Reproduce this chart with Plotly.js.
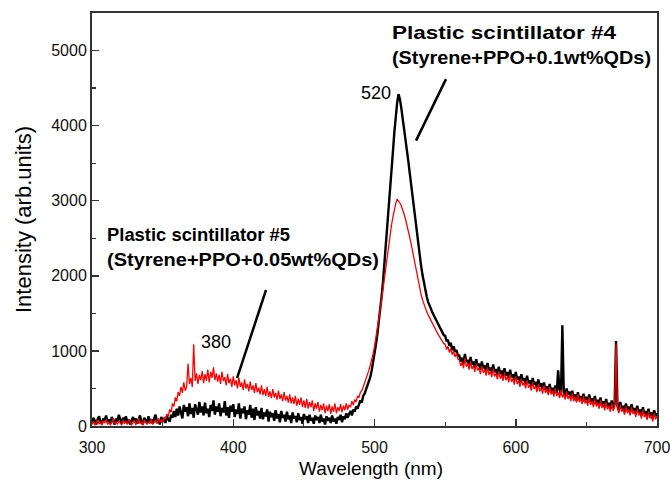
<!DOCTYPE html>
<html>
<head>
<meta charset="utf-8">
<script src="https://cdn.plot.ly/plotly-3.0.1.min.js"></script>
<style>
html,body{margin:0;padding:0;background:#fff;}
#chart{width:670px;height:481px;}
</style>
</head>
<body>
<div id="chart"></div>
<script>
// Wavelength grid: starts at 300 nm, one sample every 1 nm, up to 700 nm
var wavelengthStart = 300;
var wavelengthStep = 1;

// Plastic scintillator #4 (Styrene+PPO+0.1wt%QDs) - black
var intensity01 = [
  40, 110, 70, 20, 90, 130, 60, 30, 100, 80,
  140, 50, 90, 30, 120, 70, 20, 100, 60, 150,
  80, 30, 110, 60, 130, 40, 90, 20, 70, 120,
  50, 100, 30, 80, 140, 60, 20, 110, 70, 40,
  130, 60, 90, 30, 100, 150, 50, 80, 20, 120,
  70, 100, 40, 130, 90, 60, 150, 110, 200, 120,
  230, 140, 260, 170, 100, 280, 190, 250, 130, 300,
  160, 240, 110, 290, 200, 150, 320, 180, 260, 140,
  310, 170, 230, 120, 280, 200, 340, 150, 260, 190,
  300, 130, 240, 180, 330, 140, 250, 110, 270, 190,
  290, 120, 220, 160, 300, 100, 230, 170, 260, 90,
  210, 150, 280, 110, 230, 80, 250, 140, 200, 100,
  240, 90, 180, 130, 220, 60, 190, 120, 170, 70,
  210, 100, 160, 50, 200, 110, 150, 60, 190, 90,
  140, 40, 180, 100, 130, 50, 170, 80, 120, 30,
  160, 90, 130, 40, 150, 70, 110, 30, 140, 80,
  120, 40, 150, 60, 100, 20, 130, 70, 110, 40,
  140, 60, 100, 30, 120, 80, 150, 50, 130, 90,
  170, 110, 160, 200, 140, 220, 190, 260, 230, 300,
  340, 310, 400, 430, 480, 540, 600, 650, 740, 840,
  960, 1080, 1220, 1370, 1530, 1720, 1920, 2150, 2380, 2620,
  2880, 3130, 3380, 3640, 3900, 4120, 4300, 4420, 4350, 4230,
  4100, 3950, 3820, 3660, 3520, 3360, 3200, 3030, 2870, 2700,
  2540, 2400, 2260, 2130, 2010, 1900, 1810, 1720, 1650, 1590,
  1560, 1510, 1470, 1430, 1390, 1350, 1310, 1270, 1240, 1210,
  1200, 1130, 1150, 1070, 1110, 1010, 1060, 990, 1010, 940,
  940, 860, 910, 830, 960, 850, 880, 810, 920, 820,
  860, 780, 890, 800, 830, 750, 860, 770, 810, 730,
  840, 740, 780, 700, 820, 720, 760, 680, 790, 690,
  740, 660, 770, 670, 720, 640, 750, 650, 690, 610,
  720, 620, 660, 580, 690, 600, 640, 560, 670, 570,
  610, 530, 640, 550, 590, 510, 620, 520, 570, 490,
  580, 480, 530, 450, 560, 460, 510, 430, 540, 440,
  740, 490, 410, 1340, 460, 400, 500, 420, 460, 380,
  470, 370, 420, 340, 450, 350, 400, 320, 430, 330,
  390, 310, 420, 320, 370, 290, 400, 300, 350, 270,
  380, 280, 330, 250, 360, 260, 310, 230, 340, 240,
  290, 1130, 270, 210, 320, 230, 270, 190, 300, 210,
  260, 180, 290, 200, 240, 160, 270, 180, 220, 140,
  250, 160, 200, 120, 230, 140, 180, 100, 210, 130,
  170
];

// Plastic scintillator #5 (Styrene+PPO+0.05wt%QDs) - red
var intensity005 = [
  20, 60, 10, 40, 80, 30, 50, 10, 70, 40,
  90, 20, 50, 10, 60, 100, 30, 50, 20, 70,
  40, 10, 80, 30, 60, 20, 90, 40, 10, 50,
  70, 20, 40, 100, 30, 60, 10, 80, 40, 20,
  60, 30, 90, 20, 50, 70, 30, 100, 60, 80,
  40, 120, 90, 160, 130, 220, 180, 300, 260, 380,
  330, 450, 400, 520, 440, 580, 470, 520, 830, 560,
  640, 520, 1090, 600, 700, 560, 680, 610, 730, 570,
  690, 600, 750, 580, 720, 640, 780, 610, 700, 590,
  680, 560, 720, 600, 650, 540, 690, 570, 630, 520,
  660, 540, 610, 500, 640, 520, 580, 480, 620, 500,
  560, 460, 590, 480, 540, 440, 570, 450, 510, 420,
  540, 410, 490, 400, 520, 390, 460, 370, 490, 380,
  440, 350, 470, 360, 420, 330, 450, 340, 400, 310,
  420, 300, 380, 290, 400, 270, 360, 280, 380, 250,
  340, 240, 360, 230, 320, 250, 340, 200, 300, 230,
  320, 190, 280, 210, 300, 170, 270, 200, 290, 160,
  260, 190, 300, 170, 250, 200, 290, 180, 270, 210,
  300, 220, 280, 250, 330, 280, 350, 320, 400, 380,
  450, 470, 520, 570, 620, 680, 740, 810, 880, 960,
  1060, 1170, 1290, 1410, 1540, 1680, 1830, 1980, 2130, 2270,
  2410, 2540, 2670, 2780, 2880, 2960, 3020, 3000, 2970, 2930,
  2880, 2820, 2750, 2680, 2600, 2510, 2420, 2320, 2220, 2110,
  2010, 1920, 1830, 1750, 1680, 1620, 1570, 1520, 1480, 1440,
  1400, 1360, 1320, 1290, 1250, 1220, 1190, 1160, 1130, 1100,
  1090, 1020, 1060, 980, 1030, 950, 1000, 920, 970, 890,
  880, 800, 850, 770, 900, 790, 830, 750, 860, 760,
  800, 720, 830, 740, 770, 690, 800, 710, 750, 670,
  780, 680, 730, 650, 760, 660, 700, 620, 730, 630,
  680, 600, 710, 610, 660, 580, 690, 590, 630, 550,
  660, 560, 600, 520, 630, 540, 580, 500, 610, 510,
  550, 470, 580, 490, 530, 450, 560, 460, 510, 430,
  540, 440, 490, 410, 520, 420, 470, 390, 500, 400,
  450, 370, 480, 380, 430, 350, 460, 360, 410, 330,
  440, 330, 390, 310, 420, 320, 370, 290, 400, 300,
  350, 270, 380, 280, 330, 250, 360, 260, 310, 230,
  340, 240, 290, 210, 320, 220, 270, 190, 300, 200,
  250, 1100, 230, 170, 280, 190, 230, 150, 260, 170,
  220, 140, 250, 160, 200, 120, 230, 140, 180, 100,
  210, 120, 160, 80, 190, 100, 140, 60, 170, 90,
  130
];

var xTicks = [300, 400, 500, 600, 700];
var yTicks = [0, 1000, 2000, 3000, 4000, 5000];
var xTitle = 'Wavelength (nm)';
var yTitle = 'Intensity (arb.units)';
var label4 = ['Plastic scintillator #4', '(Styrene+PPO+0.1wt%QDs)'];
var label5 = ['Plastic scintillator #5', '(Styrene+PPO+0.05wt%QDs)'];
var peakLabels = ['520', '380'];

var traces = [
  {
    type: 'scatter', mode: 'lines',
    x0: wavelengthStart, dx: wavelengthStep,
    y: intensity01,
    line: {color: '#000000', width: 2.4},
    hoverinfo: 'skip'
  },
  {
    type: 'scatter', mode: 'lines',
    x0: wavelengthStart, dx: wavelengthStep,
    y: intensity005,
    line: {color: '#ff0000', width: 1.3},
    hoverinfo: 'skip'
  }
];

var FONT = 'Liberation Sans, Arial, Helvetica, sans-serif';
var axisCommon = {
  showline: true, linecolor: '#333333', linewidth: 2, mirror: true,
  showgrid: false, zeroline: false,
  ticks: 'inside', ticklen: 7, tickwidth: 1.5, tickcolor: '#333333',
  ticklabeloverflow: 'allow',
  tickfont: {family: FONT, size: 16, color: '#111111'}
};

var boldFont = {family: FONT, size: 19, weight: 'bold', color: '#000'};
var layout = {
  width: 670, height: 481,
  margin: {l: 92, r: 13, t: 13, b: 55},
  paper_bgcolor: '#ffffff', plot_bgcolor: '#ffffff',
  showlegend: false,
  font: {family: FONT, color: '#000000'},
  xaxis: Object.assign({}, axisCommon, {
    range: [300, 700], tickmode: 'array', tickvals: xTicks,
    ticktext: xTicks.map(String), ticklabelstandoff: 6,
    minor: {ticks: 'inside', ticklen: 4, tickwidth: 1.2, tickcolor: '#333333', dtick: 50}
  }),
  yaxis: Object.assign({}, axisCommon, {
    range: [0, 5500], tickmode: 'array', tickvals: yTicks,
    ticktext: yTicks.map(String),
    minor: {ticks: 'inside', ticklen: 4, tickwidth: 1.2, tickcolor: '#333333', dtick: 500},
    title: {text: yTitle, font: {family: FONT, size: 22, color: '#000'}, standoff: 14}
  }),
  annotations: [
    {x: 511, y: 5247, xref: 'x', yref: 'y', text: label4[0], showarrow: false, xanchor: 'left', yanchor: 'middle', font: boldFont},
    {x: 511, y: 4901, xref: 'x', yref: 'y', text: label4[1], showarrow: false, xanchor: 'left', yanchor: 'middle', font: boldFont},
    {x: 309.2, y: 2544, xref: 'x', yref: 'y', text: label5[0], showarrow: false, xanchor: 'left', yanchor: 'middle', font: boldFont},
    {x: 309.2, y: 2211, xref: 'x', yref: 'y', text: label5[1], showarrow: false, xanchor: 'left', yanchor: 'middle', font: boldFont},
    {x: 501, y: 4441, xref: 'x', yref: 'y', text: peakLabels[0], showarrow: false, xanchor: 'center', yanchor: 'middle', font: {family: FONT, size: 18, color: '#000'}},
    {x: 388, y: 1119, xref: 'x', yref: 'y', text: peakLabels[1], showarrow: false, xanchor: 'center', yanchor: 'middle', font: {family: FONT, size: 18, color: '#000'}},
    // x-axis title, placed low like the original (kept fully inside the picture)
    {x: 0.494, y: -0.1041, xref: 'paper', yref: 'paper', text: xTitle, showarrow: false, xanchor: 'center', yanchor: 'middle', font: {family: FONT, size: 19, color: '#000'}}
  ],
  shapes: [
    {type: 'line', xref: 'x', yref: 'y', x0: 529.4, y0: 3800, x1: 550.6, y1: 4620, line: {color: '#000', width: 2.5}},
    {type: 'line', xref: 'x', yref: 'y', x0: 402.7, y0: 639, x1: 423.2, y1: 1811, line: {color: '#000', width: 2.5}}
  ]
};

// target rendered widths (px) of the bold label lines, to match the wide lettering of the original
var labelWidths = [224, 259, 183, 272];

Plotly.newPlot('chart', traces, layout, {staticPlot: true, displayModeBar: false}).then(function () {
  var texts = document.querySelectorAll('#chart .annotation-text');
  labelWidths.forEach(function (w, i) {
    var el = texts[i];
    if (!el) return;
    var b0 = el.getBBox();
    el.setAttribute('textLength', w);
    el.setAttribute('lengthAdjust', 'spacingAndGlyphs');
    var b1 = el.getBBox();
    var dx = b0.x - b1.x;
    var t = el.getAttribute('transform') || '';
    el.setAttribute('transform', (t + ' translate(' + dx + ',0)').trim());
  });
});
</script>
</body>
</html>
